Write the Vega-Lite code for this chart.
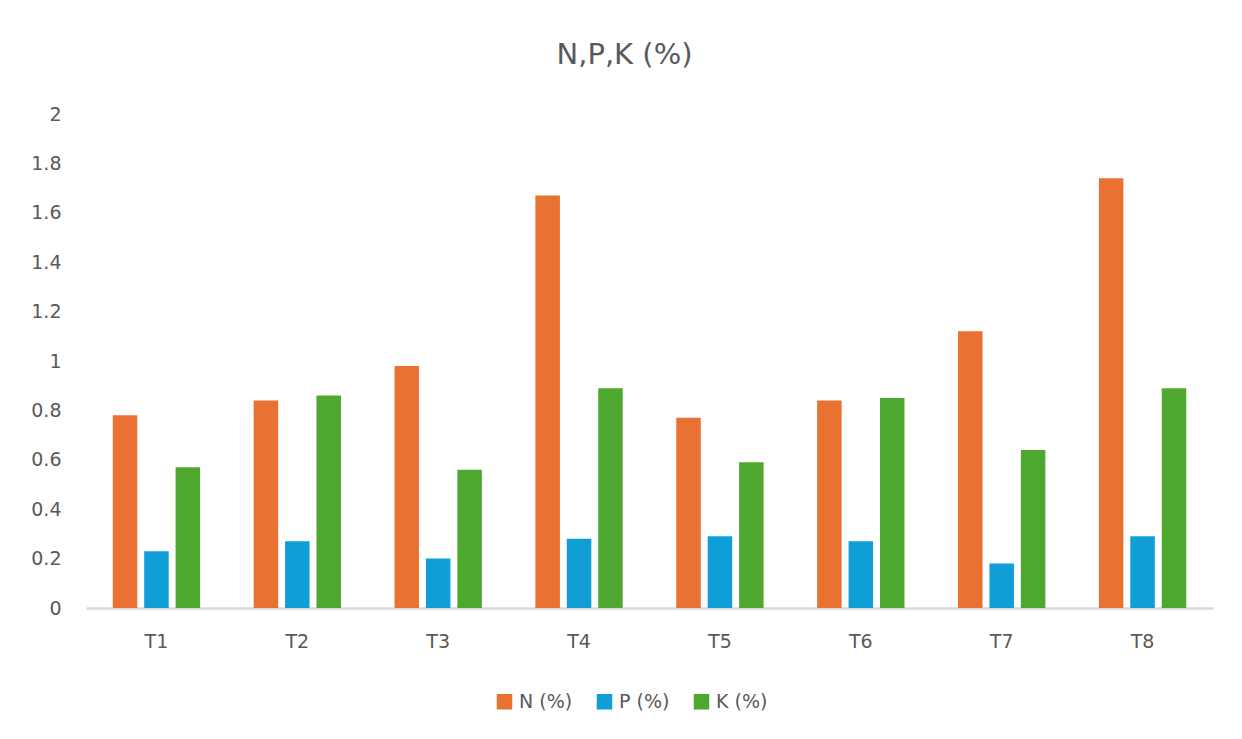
{
  "$schema": "https://vega.github.io/schema/vega-lite/v6.json",
  "width": 1127,
  "height": 494,
  "autosize": {"type": "none"},
  "padding": {"left": 86, "top": 114, "right": 29, "bottom": 131},
  "background": "white",
  "title": {
    "text": "N,P,K (%)",
    "font": "DejaVu Sans",
    "fontSize": 29,
    "fontWeight": "normal",
    "color": "#595959",
    "anchor": "middle",
    "offset": 35,
    "dx": -25
  },
  "data": {
    "values": [
      {"t": "T1", "s": "N (%)", "v": 0.78}, {"t": "T1", "s": "P (%)", "v": 0.23}, {"t": "T1", "s": "K (%)", "v": 0.57},
      {"t": "T2", "s": "N (%)", "v": 0.84}, {"t": "T2", "s": "P (%)", "v": 0.27}, {"t": "T2", "s": "K (%)", "v": 0.86},
      {"t": "T3", "s": "N (%)", "v": 0.98}, {"t": "T3", "s": "P (%)", "v": 0.20}, {"t": "T3", "s": "K (%)", "v": 0.56},
      {"t": "T4", "s": "N (%)", "v": 1.67}, {"t": "T4", "s": "P (%)", "v": 0.28}, {"t": "T4", "s": "K (%)", "v": 0.89},
      {"t": "T5", "s": "N (%)", "v": 0.77}, {"t": "T5", "s": "P (%)", "v": 0.29}, {"t": "T5", "s": "K (%)", "v": 0.59},
      {"t": "T6", "s": "N (%)", "v": 0.84}, {"t": "T6", "s": "P (%)", "v": 0.27}, {"t": "T6", "s": "K (%)", "v": 0.85},
      {"t": "T7", "s": "N (%)", "v": 1.12}, {"t": "T7", "s": "P (%)", "v": 0.18}, {"t": "T7", "s": "K (%)", "v": 0.64},
      {"t": "T8", "s": "N (%)", "v": 1.74}, {"t": "T8", "s": "P (%)", "v": 0.29}, {"t": "T8", "s": "K (%)", "v": 0.89}
    ]
  },
  "mark": {"type": "bar"},
  "encoding": {
    "x": {
      "field": "t", "type": "nominal", "sort": null,
      "scale": {"paddingInner": 0.38, "paddingOuter": 0.19},
      "axis": {
        "title": null, "labelAngle": 0, "ticks": false,
        "domainColor": "#d9d9d9", "domainWidth": 2.5,
        "labelFont": "DejaVu Sans", "labelFontSize": 19, "labelColor": "#595959",
        "labelPadding": 24
      }
    },
    "xOffset": {
      "field": "s", "type": "nominal", "sort": ["N (%)", "P (%)", "K (%)"],
      "scale": {"paddingInner": 0.22, "paddingOuter": 0}
    },
    "y": {
      "field": "v", "type": "quantitative",
      "scale": {"domain": [0, 2], "nice": false},
      "axis": {
        "title": null, "grid": false, "domain": false, "ticks": false,
        "values": [0, 0.2, 0.4, 0.6, 0.8, 1, 1.2, 1.4, 1.6, 1.8, 2],
        "format": "~g",
        "labelFont": "DejaVu Sans", "labelFontSize": 19, "labelColor": "#595959",
        "labelPadding": 25
      }
    },
    "color": {
      "field": "s", "type": "nominal",
      "sort": ["N (%)", "P (%)", "K (%)"],
      "scale": {"domain": ["N (%)", "P (%)", "K (%)"], "range": ["#E97132", "#0F9ED5", "#4EA72E"]},
      "legend": {
        "title": null, "orient": "none", "direction": "horizontal",
        "legendX": 409, "legendY": 578,
        "symbolType": "square", "symbolSize": 240, "symbolStrokeWidth": 0,
        "labelFont": "DejaVu Sans", "labelFontSize": 19, "labelColor": "#595959",
        "columnPadding": 22, "labelOffset": 5
      }
    }
  },
  "config": {"view": {"stroke": null}}
}
